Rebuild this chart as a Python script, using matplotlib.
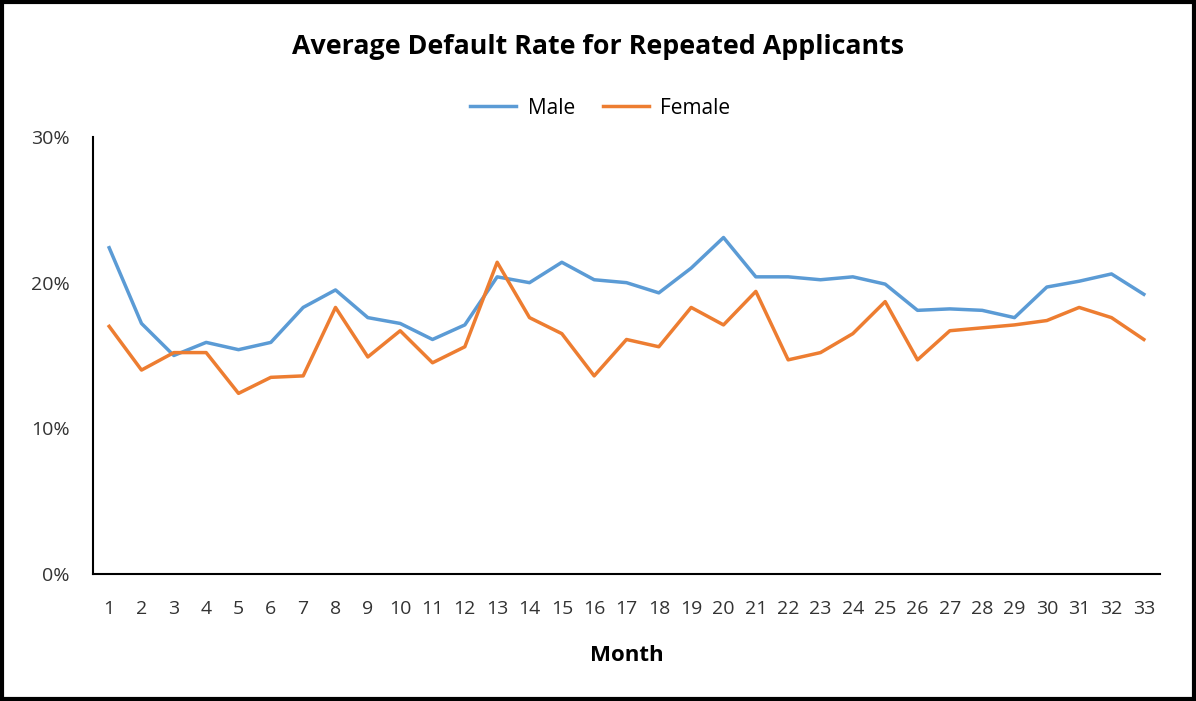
import matplotlib
matplotlib.use("Agg")
import matplotlib.pyplot as plt
from matplotlib.patches import Rectangle
from matplotlib.ticker import FuncFormatter

months = list(range(1, 34))
male = [22.4, 17.2, 15.0, 15.9, 15.4, 15.9, 18.3, 19.5, 17.6, 17.2, 16.1, 17.1,
        20.4, 20.0, 21.4, 20.2, 20.0, 19.3, 21.0, 23.1, 20.4, 20.4, 20.2, 20.4,
        19.9, 18.1, 18.2, 18.1, 17.6, 19.7, 20.1, 20.6, 19.2]
female = [17.0, 14.0, 15.2, 15.2, 12.4, 13.5, 13.6, 18.3, 14.9, 16.7, 14.5, 15.6,
          21.4, 17.6, 16.5, 13.6, 16.1, 15.6, 18.3, 17.1, 19.4, 14.7, 15.2, 16.5,
          18.7, 14.7, 16.7, 16.9, 17.1, 17.4, 18.3, 17.6, 16.1]
yticks = [0, 10, 20, 30]

plt.rcParams['font.family'] = ['Open Sans', 'DejaVu Sans']

fig = plt.figure(figsize=(11.96, 7.01), dpi=100)
ax = fig.add_axes([93/1196, 1-574/701, (1160-93)/1196, (574-137)/701])

ax.plot(months, male, color='#5B9BD5', lw=2.5, label='Male')
ax.plot(months, female, color='#ED7D31', lw=2.5, label='Female')

ax.set_xlim(0.5, 33.5)
ax.set_ylim(0, 30)
ax.set_xticks(months)
ax.set_xticklabels([str(m) for m in months])
ax.set_yticks(yticks)
ax.yaxis.set_major_formatter(FuncFormatter(lambda v, p: f"{int(v)}%"))
ax.tick_params(axis='both', length=0, labelsize=14, colors='#333333')
ax.tick_params(axis='x', pad=18.5)
ax.tick_params(axis='y', pad=17)
for s in ['top', 'right']:
    ax.spines[s].set_visible(False)
for s in ['left', 'bottom']:
    ax.spines[s].set_color('black')
    ax.spines[s].set_linewidth(1.5)

ax.set_xlabel('Month', fontsize=16, fontweight='bold', labelpad=20)

fig.text(0.5, 1-47/701, 'Average Default Rate for Repeated Applicants',
         ha='center', va='center', fontsize=19.3, fontweight='bold', color='black')

fig.legend(loc='center', bbox_to_anchor=(0.502, 1-108/701), ncol=2, frameon=False,
           fontsize=15, handlelength=2.2, columnspacing=1.35, handletextpad=0.55)

fig.patches.append(Rectangle((0.002, 0.003), 0.996, 0.994, transform=fig.transFigure,
                             fill=False, edgecolor='black', lw=3))

fig.savefig('out.png', dpi=100, facecolor='white')
